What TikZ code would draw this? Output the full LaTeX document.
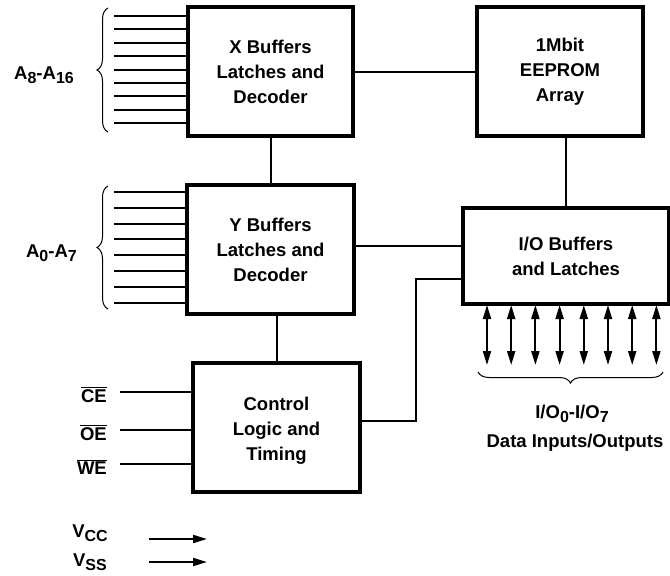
\documentclass[tikz,border=0pt]{standalone}
\usepackage{fontspec}
\setmainfont{Liberation Sans}
\usetikzlibrary{arrows.meta,decorations.pathreplacing}

\newcommand\lowsub[1]{\raisebox{-4pt}{\fontsize{16}{16}\selectfont #1}}

\tikzset{
  block/.style={draw, line width=3.2pt, inner sep=0pt, align=center,
    font=\bfseries\fontsize{18.5}{25}\selectfont},
  wire/.style={line width=2pt},
  pinlabel/.style={inner sep=0pt, font=\bfseries\fontsize{18.5}{22}\selectfont},
  bidir/.style={wire, {Triangle[width=8pt,length=14pt]}-{Triangle[width=8pt,length=14pt]}},
  supply/.style={wire, -{Triangle[width=8pt,length=14pt]}},
  busbrace/.style={decorate, decoration={brace, amplitude=11pt}, line width=1pt}
}

\begin{document}
\begin{tikzpicture}[x=1pt,y=-1pt]
  \useasboundingbox (0,0) rectangle (670,576);

  % blocks
  \node[block, minimum width=165pt, minimum height=129pt] (xbuf) at (270.5,71.5)
    {X Buffers\\Latches and\\Decoder};
  \node[block, minimum width=167pt, minimum height=129pt] (ybuf) at (270.5,249.5)
    {Y Buffers\\Latches and\\Decoder};
  \node[block, minimum width=167pt, minimum height=129pt] (ctl) at (276.5,427.5)
    {\\[-6pt]Control\\Logic and\\Timing};
  \node[block, minimum width=166pt, minimum height=129pt] (array) at (560,71.5)
    {1Mbit\\EEPROM\\Array};
  \node[block, minimum width=206pt, minimum height=96pt] (iobuf) at (566,256)
    {I/O Buffers\\and Latches};

  % internal connections
  \draw[wire] (xbuf) -- (array);
  \draw[wire] (xbuf.south) -- (ybuf.north);
  \draw[wire] (ybuf.south -| ctl.north) -- (ctl.north);
  \draw[wire] (iobuf.north) -- (iobuf.north |- array.south);
  \draw[wire] (ybuf.east |- 0,246) -- (iobuf.west |- 0,246);
  \coordinate (bend) at (416,279);
  \draw[wire] (ctl.east |- 0,421) -| (bend) -- (iobuf.west |- bend);

  % address inputs
  \foreach \i in {0,...,8}
    \draw[wire] (114,16+13.4*\i) -- (xbuf.west |- 0,16+13.4*\i);
  \foreach \i in {0,...,7}
    \draw[wire] (114,192+15.8*\i) -- (ybuf.west |- 0,192+15.8*\i);
  \draw[busbrace] (108,132) -- (108,8);
  \draw[busbrace] (108,309) -- (108,186);
  \node[pinlabel, anchor=base east] (ahi) at (74,79) {A\lowsub{8}-A\lowsub{16}};
  \node[pinlabel, anchor=base east] (alo) at (77,257) {A\lowsub{0}-A\lowsub{7}};

  % control inputs
  \foreach \name/\y in {CE/392, OE/430, WE/464} {
    \node[pinlabel, anchor=base east] (\name) at (107,\y+10) {$\overline{\mbox{\name}}$};
    \draw[wire] (120,\y) -- (ctl.west |- 0,\y);
  }

  % data lines
  \foreach \i in {0,...,7}
    \draw[bidir] (487+24.2*\i,305) -- (487+24.2*\i,365);
  \draw[busbrace] (663,372) -- (478,372);
  \node[pinlabel, anchor=base] (iolbl) at (572,418) {I/O\lowsub{0}-I/O\lowsub{7}};
  \node[pinlabel, anchor=base] (datalbl) at (575,447) {Data Inputs/Outputs};

  % supplies
  \node[pinlabel, anchor=base east] (vcc) at (108,537) {V\lowsub{CC}};
  \node[pinlabel, anchor=base east] (vss) at (107,566) {V\lowsub{SS}};
  \coordinate (vccend) at (207,539);
  \coordinate (vssend) at (207,562);
  \draw[supply] (149,539) -- (vccend);
  \draw[supply] (149,562) -- (vssend);
\end{tikzpicture}
\end{document}
